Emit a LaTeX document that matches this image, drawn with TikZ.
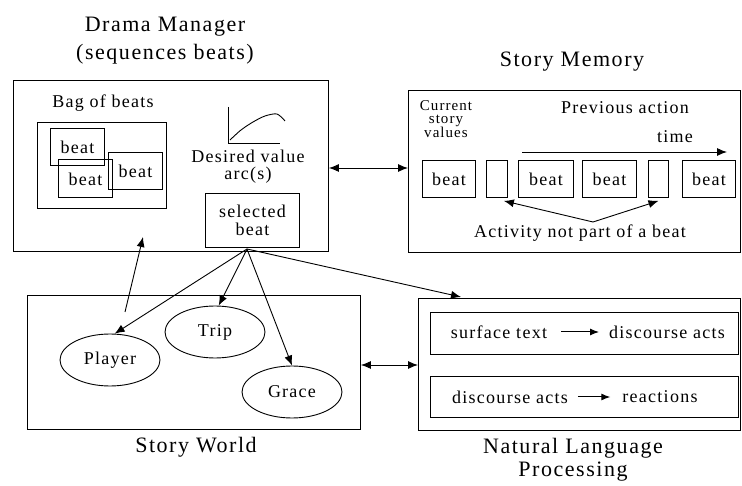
\documentclass[tikz,border=0pt]{standalone}
\usepackage{fontspec}
\setmainfont{Liberation Serif}[LetterSpace=7]
\usetikzlibrary{arrows.meta,shapes.geometric,calc}
\tikzset{
  box/.style={draw, line width=0.9pt, inner sep=0pt, anchor=north west},
  oval/.style={draw, ellipse, line width=0.9pt, minimum width=100pt, minimum height=52pt, inner sep=0pt},
  lab/.style={inner sep=0pt, align=center},
  ttl/.style={inner sep=0pt, align=center, font=\fontsize{22}{28}\selectfont},
  arr/.style={line width=0.9pt, -{Latex[length=10pt,width=8pt]}},
  darr/.style={line width=0.9pt, {Latex[length=10pt,width=8pt]}-{Latex[length=10pt,width=8pt]}},
  sarr/.style={line width=1pt, -{Latex[length=9pt,width=7pt]}}
}
\begin{document}
\begin{tikzpicture}[x=1pt,y=-1pt,font=\fontsize{18}{19}\selectfont]
\useasboundingbox (0,0) rectangle (742,486);
% ---------- Drama Manager ----------
\node[ttl] (dmt) at (165,41) {Drama Manager\\(sequences beats)};
\node[box, minimum width=315pt, minimum height=171pt] (dm) at (13,80) {};
\node[lab] (bagl) at (103,103) {Bag of beats};
\node[box, minimum width=129pt, minimum height=86pt] (bag) at (37,122) {};
\node[box, minimum width=54pt, minimum height=37pt] (b1) at (50,128) {};
\node[lab] at (b1.center) {beat};
\node[box, minimum width=54pt, minimum height=38pt] (b2) at (58,159) {};
\node[lab] at ($(b2.center)+(0,1)$) {beat};
\node[box, minimum width=54pt, minimum height=37pt] (b3) at (108,152) {};
\node[lab] at (b3.center) {beat};
\coordinate (ax) at (228,107);
\coordinate (ay) at (280,143);
\draw[line width=0.9pt] (ax) |- (ay);
\draw[line width=0.9pt] plot[smooth] coordinates {(230,140) (241,130) (253,122) (265,116) (277,114) (285,121)};
\node[lab] (dv) at (248,156) {Desired value};
\node[lab] (arc) at (248,175) {arc(s)};
\node[box, minimum width=94pt, minimum height=54pt] (sel) at (205,193) {};
\node[lab, font=\fontsize{18}{18}\selectfont] at (sel.center) {selected\\beat};
% ---------- Story Memory ----------
\node[ttl] (smt) at (572,62) {Story Memory};
\node[box, minimum width=332pt, minimum height=162pt] (sm) at (408,90) {};
\node[lab, font=\fontsize{15}{13}\selectfont] (csv) at (446,119) {Current\\story\\values};
\node[lab] (pa) at (625,108) {Previous action};
\node[lab] (tm) at (675,137) {time};
\coordinate (t0) at (522,152);
\coordinate (t1) at (727,152);
\draw[arr] (t0) -- (t1);
\node[box, minimum width=53pt, minimum height=37pt] (m1) at (422,160) {};
\node[lab] at (m1.center) {beat};
\node[box, minimum width=21pt, minimum height=37pt] (e1) at (486,160) {};
\node[box, minimum width=55pt, minimum height=37pt] (m2) at (518,160) {};
\node[lab] at (m2.center) {beat};
\node[box, minimum width=54pt, minimum height=37pt] (m3) at (582,160) {};
\node[lab] at (m3.center) {beat};
\node[box, minimum width=20pt, minimum height=37pt] (e2) at (648,160) {};
\node[box, minimum width=53pt, minimum height=37pt] (m4) at (682,160) {};
\node[lab] at (m4.center) {beat};
\node[lab] (act) at (580,233) {Activity not part of a beat};
\coordinate (as) at (593,222);
\draw[arr] (as) -- ($(e1.south east)+(-4,3)$);
\draw[arr] (as) -- ($(e2.south)+(0,3)$);
\coordinate (h1) at (0,168);
\draw[darr] (dm.east|-h1) -- (sm.west|-h1);
% ---------- Story World ----------
\node[box, minimum width=333pt, minimum height=134pt] (sw) at (27,295) {};
\node[ttl] (swt) at (196,447) {Story World};
\node[oval] (pl) at (110,360) {Player};
\node[oval] (tr) at (215,332) {Trip};
\node[oval] (gr) at (292,392) {Grace};
\coordinate (u0) at (125,312);
\coordinate (u1) at (143,237);
\draw[arr] (u0) -- (u1);
\coordinate (src) at (247,249);
\draw[arr] (src) -- (pl.80);
\draw[arr] (src) -- (tr.82);
\draw[arr] (src) -- (gr.north);
% ---------- NLP ----------
\node[box, minimum width=322pt, minimum height=132pt] (nlp) at (418,298) {};
\node[ttl, font=\fontsize{22}{23}\selectfont] (nlpt) at (573,460) {Natural Language\\Processing};
\draw[arr] (src) -- ($(nlp.north west)+(43,-1)$);
\node[box, minimum width=308pt, minimum height=42pt] (n1) at (430,312) {};
\node[lab] (st) at (499,332) {surface text};
\node[lab] (da1) at (667,332) {discourse acts};
\draw[sarr] ($(st.east)+(14,0)$) -- ($(da1.west)+(-10,0)$);
\node[box, minimum width=308pt, minimum height=41pt] (n2) at (430,376) {};
\node[lab] (da2) at (510,397) {discourse acts};
\node[lab] (re) at (660,397) {reactions};
\draw[sarr] ($(da2.east)+(10,0)$) -- ($(re.west)+(-12,0)$);
\coordinate (h2) at (0,365);
\draw[darr] (sw.east|-h2) -- (nlp.west|-h2);
\end{tikzpicture}
\end{document}
